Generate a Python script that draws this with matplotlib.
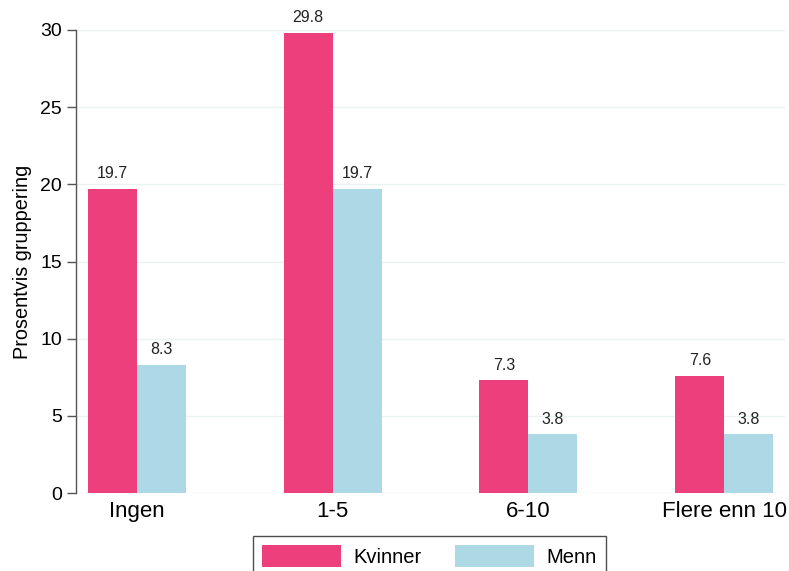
import matplotlib
matplotlib.use("Agg")
import matplotlib.pyplot as plt
import numpy as np

categories = ["Ingen", "1-5", "6-10", "Flere enn 10"]
kvinner = [19.7, 29.8, 7.3, 7.6]
menn = [8.3, 19.7, 3.8, 3.8]
yticks = [0, 5, 10, 15, 20, 25, 30]

plt.rcParams['font.family'] = ['Liberation Sans', 'DejaVu Sans']

fig = plt.figure(figsize=(7.89, 5.71), dpi=100)
ax = fig.add_axes([76/789, 78/571, (785-76)/789, (493-30)/571])

x = np.arange(len(categories))
w = 0.25
pink = "#EE3F7D"
blue = "#ADD8E6"
b1 = ax.bar(x - w/2, kvinner, w, color=pink, label="Kvinner", zorder=3)
b2 = ax.bar(x + w/2, menn, w, color=blue, label="Menn", zorder=3)

for bars, vals in ((b1, kvinner), (b2, menn)):
    for b, v in zip(bars, vals):
        ax.text(b.get_x() + b.get_width()/2, v + 0.5, f"{v:.1f}",
                ha="center", va="bottom", fontsize=11.5, color="#222222")

ax.set_xlim(-0.31, 3.31)
ax.set_ylim(0, 30)
ax.set_yticks(yticks)
ax.set_yticklabels([str(t) for t in yticks], fontsize=14)
ax.set_xticks(x)
ax.set_xticklabels(categories, fontsize=16)
ax.tick_params(axis="x", length=0, pad=6)
ax.tick_params(axis="y", length=6.5, width=1, color="#555555", pad=3.5)
ax.grid(axis="y", color="#EAF2F2", linewidth=1, zorder=0)
for s in ["top", "right", "bottom"]:
    ax.spines[s].set_visible(False)
ax.spines["left"].set_color("#555555")
ax.spines["left"].set_linewidth(1)
ax.set_ylabel("Prosentvis gruppering", fontsize=14.3, labelpad=6)

leg = fig.legend(handles=[b1, b2], labels=["Kvinner", "Menn"], ncol=2,
                 loc="upper left", bbox_to_anchor=(253/789, 1 - 536/571),
                 fontsize=14.5, frameon=True, fancybox=False, edgecolor="#222222",
                 handlelength=3.9, handleheight=1.3, columnspacing=1.65,
                 borderpad=0.45, handletextpad=0.65, borderaxespad=0)
leg.get_frame().set_linewidth(1)

fig.savefig("out.png", dpi=100)
